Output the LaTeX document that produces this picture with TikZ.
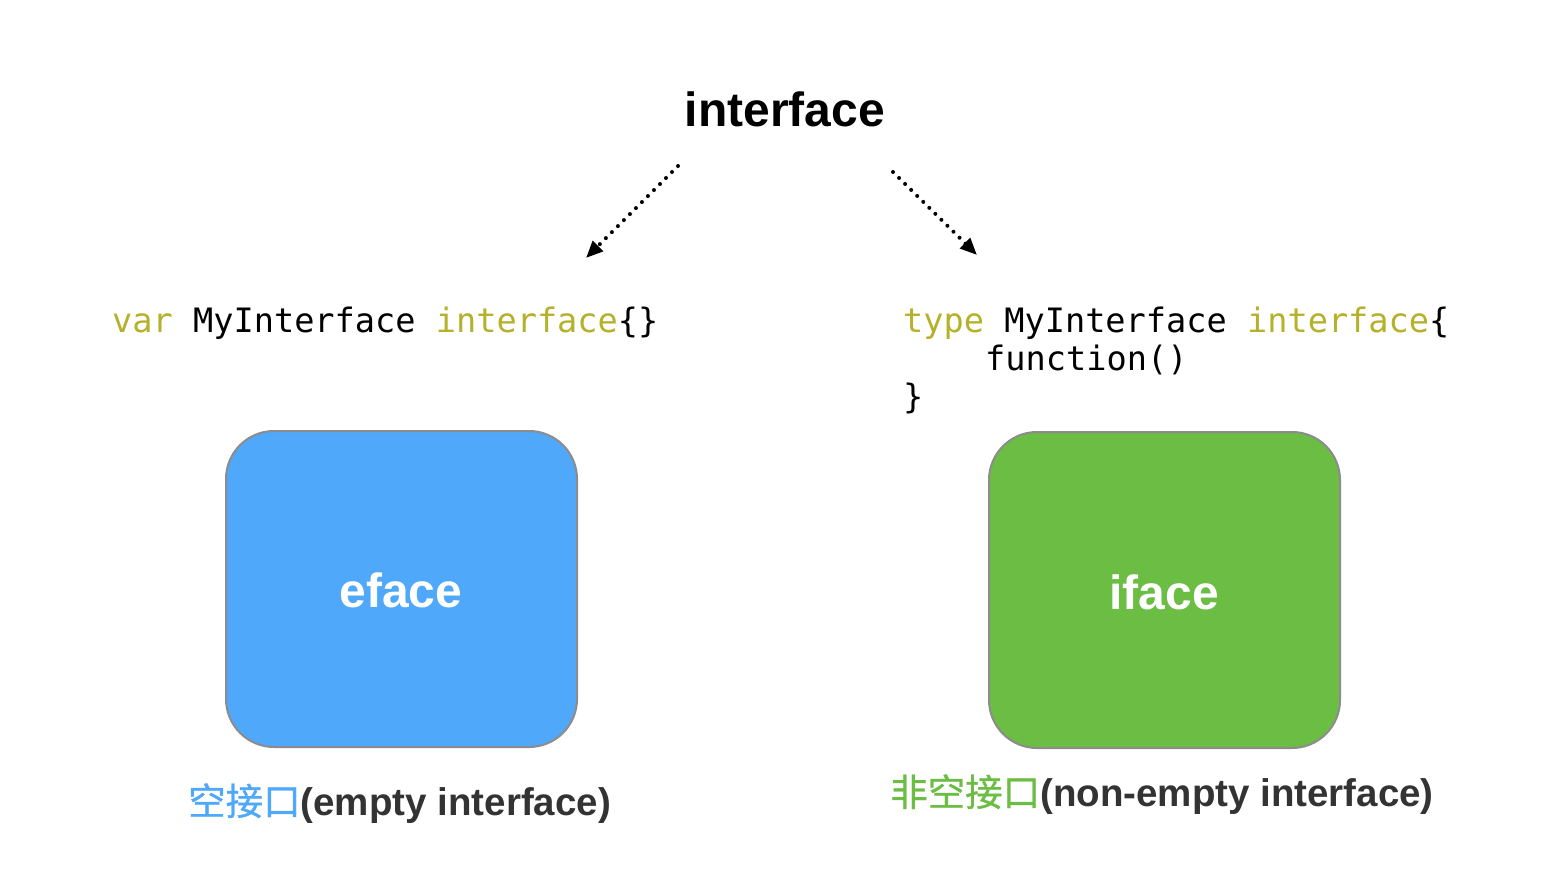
\documentclass[tikz,border=0pt]{standalone}
\usepackage{fontspec}
\setmainfont{Liberation Sans}
\setmonofont{DejaVu Sans Mono}
\newfontfamily\cjk{Noto Sans CJK SC}[BoldFont={Noto Sans CJK SC}, BoldFeatures={FakeBold=0.8}]
\usetikzlibrary{arrows.meta}
\definecolor{kw}{HTML}{B5B12B}
\definecolor{effill}{HTML}{4FA8F9}
\definecolor{iffill}{HTML}{6CBD44}
\definecolor{boxline}{HTML}{8C8C8C}
\definecolor{lbltext}{HTML}{333333}
\tikzset{
  titlestyle/.style={font=\fontsize{48}{56}\selectfont\bfseries, inner sep=0pt},
  codestyle/.style={font=\fontsize{33.6}{38}\selectfont\ttfamily, inner sep=0pt},
  bigbox/.style={draw=boxline, line width=2pt, rounded corners=48pt, minimum width=351pt, minimum height=316pt, inner sep=0pt},
  boxtext/.style={font=\fontsize{48}{56}\selectfont\bfseries, text=white, inner sep=0pt},
  lblstyle/.style={font=\fontsize{38.5}{44}\selectfont\bfseries, text=lbltext, inner sep=0pt},
  dotarrow/.style={line width=4pt, dash pattern=on 0pt off 8.5pt, line cap=round, -{Triangle[length=17pt,width=14pt]}}
}
\begin{document}
\begin{tikzpicture}[x=1pt,y=-1pt]
\useasboundingbox[fill=white] (0,0) rectangle (1552,872);
% title
\node[titlestyle, anchor=base] (title) at (785,127) {interface};
% arrows
\coordinate (lstart) at (678,166);
\coordinate (lend) at (586,258);
\coordinate (rstart) at (893,172);
\coordinate (rend) at (977,255);
\draw[dotarrow] (lstart) -- (lend);
\draw[dotarrow] (rstart) -- (rend);
% code
\node[codestyle, anchor=base west] (lcode) at (112,332) {\textcolor{kw}{var} MyInterface \textcolor{kw}{interface}\{\}};
\node[codestyle, anchor=base west] (rcode1) at (903,332) {\textcolor{kw}{type} MyInterface \textcolor{kw}{interface}\{};
\node[codestyle, anchor=base west] (rcode2) at (985,370) {function()};
\node[codestyle, anchor=base west] (rcode3) at (903,408) {\}};
% boxes
\node[bigbox, fill=effill] (ebox) at (401.5,589) {};
\node[bigbox, fill=iffill] (ibox) at (1164.5,590) {};
\node[boxtext, anchor=base] (etext) at (401,607) {eface};
\node[boxtext, anchor=base] (itext) at (1164,609) {iface};
% labels
\node[lblstyle, anchor=base west] (llbl) at (188,815) {{\cjk\fontsize{37.5}{44}\selectfont\textcolor{effill}{空接口}}(empty interface)};
\node[lblstyle, anchor=base west] (rlbl) at (890,806) {{\cjk\fontsize{37.5}{44}\selectfont\textcolor{iffill}{非空接口}}(non-empty interface)};
\end{tikzpicture}
\end{document}
